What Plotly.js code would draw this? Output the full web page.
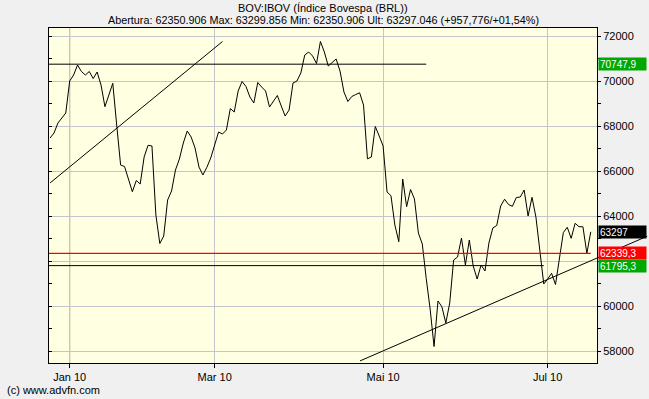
<!DOCTYPE html>
<html>
<head>
<meta charset="utf-8">
<script src="https://cdn.plot.ly/plotly-3.0.1.min.js"></script>
<style>html,body{margin:0;padding:0;background:#f0f0f0;}#chart{width:649px;height:399px;}</style>
</head>
<body>
<div id="chart"></div>
<script>
// Daily closes (trading-day index 0..138), Dec 2009 - Jul 2010
const closes = [
 67467, 67689, 68133, 68356, 68578, 70000, 70267, 70711, 70422, 70267,
 70422, 70111, 70400, 69822, 68858, 69378, 69898, 68044, 66267, 66200,
 65644, 65080, 65578, 65422, 66622, 67142, 67111, 64044, 62778, 63111,
 64711, 65111, 66044, 66533, 67244, 67778, 67511, 67022, 66178, 65822,
 66160, 66578, 67156, 67733, 67644, 67822, 68778, 68622, 69556, 69978,
 69756, 69289, 69022, 69933, 69733, 69556, 68844, 69111, 69356, 68889,
 68444, 68711, 69911, 70000, 70356, 71156, 71289, 71111, 70778, 71756,
 71289, 70667, 70822, 70978, 70444, 69511, 69089, 69311, 69400, 69476,
 68933, 66542, 66622, 67978, 67556, 67111, 65067, 64902, 63600, 62858,
 65644, 64413, 65178, 64756, 63244, 62756, 61222, 59867, 58200, 60222,
 59969, 59244, 60133, 62044, 62178, 63022, 61822, 62933, 61778, 61200,
 61822, 61556, 62800, 63467, 63578, 64444, 64747, 64511, 64431, 64822,
 64844, 65156, 64000, 64831, 63956, 62311, 60978, 61200, 61453, 60956,
 62191, 63267, 63498, 63009, 63676, 63524, 63524, 62339, 63297
];
const dayIndex = closes.map((_, i) => i);

// month ticks (trading-day index of first session of month)
const tickIdx = [5, 42, 85, 127];
const tickLabels = ['Jan 10', 'Mar 10', 'Mai 10', 'Jul 10'];

// value axis ticks (62000 label is hidden behind the value tags)
const yTickVals = [58000, 60000, 62000, 64000, 66000, 68000, 70000, 72000];
const yTickText = ['58000', '60000', '', '64000', '66000', '68000', '70000', '72000'];

// horizontal levels
const resistanceLevel = 70747.9;
const resistanceEnd = 96;
const prevCloseLevel = 62339.3;
const supportLevel = 61795.3;
const supportEnd = 126;
const lastValue = 63297;

// trend lines (index, value)
const trendUpX = [0, 44];
const trendUpY = [65470, 71756];
const trendLowX = [79.1, 152.4];
const trendLowY = [57560, 63100];

// right-side value tags
const tagTexts = ['70747,9', '63297', '62339,3', '61795,3'];
const tagValues = [resistanceLevel, lastValue, prevCloseLevel, supportLevel];
const tagColors = ['#00a800', '#000000', '#ff0000', '#00a800'];

const titleLine1 = 'BOV:IBOV (Índice Bovespa (BRL))';
const titleLine2 = 'Abertura: 62350.906 Max: 63299.856 Min: 62350.906 Ult: 63297.046 (+957,776/+01,54%)';
const copyright = '(c) www.advfn.com';

const xRange = [-0.28, 139.59];
const yRange = [57467, 72356];
const FONT = 'Liberation Sans, Arial, sans-serif';
const toPaperX = v => (v - xRange[0]) / (xRange[1] - xRange[0]);

const traces = [
  {x: dayIndex, y: closes, type: 'scatter', mode: 'lines',
   line: {color: '#000000', width: 1}, hoverinfo: 'skip'},
  {x: [], y: [], yaxis: 'y2', type: 'scatter', mode: 'lines', hoverinfo: 'skip'}
];

const shapes = [
  {type: 'line', xref: 'x', yref: 'paper', x0: tickIdx[0], x1: tickIdx[0], y0: 0, y1: 1,
   line: {color: '#8c8c8c', width: 1}, layer: 'below'},
  {type: 'line', xref: 'x', yref: 'y', x0: xRange[0], x1: resistanceEnd,
   y0: resistanceLevel, y1: resistanceLevel, line: {color: '#000000', width: 1}},
  {type: 'line', xref: 'x', yref: 'y', x0: xRange[0], x1: closes.length - 1,
   y0: prevCloseLevel, y1: prevCloseLevel, line: {color: '#ff0000', width: 1.3}},
  {type: 'line', xref: 'x', yref: 'y', x0: xRange[0], x1: supportEnd,
   y0: supportLevel, y1: supportLevel, line: {color: '#000000', width: 1}},
  {type: 'line', xref: 'x', yref: 'y', x0: trendUpX[0], x1: trendUpX[1],
   y0: trendUpY[0], y1: trendUpY[1], line: {color: '#000000', width: 1}},
  {type: 'line', xref: 'paper', yref: 'y', x0: toPaperX(trendLowX[0]), x1: toPaperX(trendLowX[1]),
   y0: trendLowY[0], y1: trendLowY[1], line: {color: '#000000', width: 1}}
];

const annotations = [
  {xref: 'paper', yref: 'paper', x: 0.5, y: 1, yshift: 20, yanchor: 'middle', showarrow: false,
   text: titleLine1, font: {family: FONT, size: 11, color: '#000000'}},
  {xref: 'paper', yref: 'paper', x: 0.5, y: 1, yshift: 8.5, yanchor: 'middle', showarrow: false,
   text: titleLine2, font: {family: FONT, size: 10.8, color: '#000000'}},
  {xref: 'paper', yref: 'paper', x: (5 - 49) / 548, y: 0, yshift: -27, xanchor: 'left', yanchor: 'middle',
   showarrow: false, text: copyright, font: {family: FONT, size: 11, color: '#000000'}}
];
tagTexts.forEach((t, k) => {
  annotations.push({xref: 'paper', yref: 'y', x: 1, xshift: 1, y: tagValues[k], xanchor: 'left', yanchor: 'middle',
    showarrow: false, text: t, align: 'left', width: 45, height: 10, borderpad: 1,
    bgcolor: tagColors[k], font: {family: FONT, size: 10, color: '#ffffff'}});
});

const layout = {
  width: 649, height: 399,
  margin: {l: 49, r: 52, t: 28, b: 36, pad: 0},
  paper_bgcolor: '#f0f0f0',
  plot_bgcolor: '#ffffe1',
  showlegend: false,
  font: {family: FONT, size: 11, color: '#000000'},
  xaxis: {
    range: xRange, tickmode: 'array', tickvals: tickIdx, ticktext: tickLabels,
    ticks: 'outside', ticklen: 4, tickcolor: '#000000',
    showgrid: true, gridcolor: '#c4c4cc', gridwidth: 1,
    showline: true, linecolor: '#000000', linewidth: 1, mirror: true,
    zeroline: false, tickfont: {family: FONT, size: 11, color: '#000000'}
  },
  yaxis: {
    range: yRange, side: 'right', tickmode: 'array', tickvals: yTickVals, ticktext: yTickText,
    ticks: 'outside', ticklen: 3, tickcolor: '#000000',
    minor: {ticks: 'outside', dtick: 1000, tick0: 0, ticklen: 3, tickcolor: '#000000', showgrid: false},
    showgrid: true, gridcolor: '#c4c4cc', gridwidth: 1,
    showline: true, linecolor: '#000000', linewidth: 1, mirror: true,
    zeroline: false,
    tickfont: {family: FONT, size: 11, color: '#000000'}
  },
  yaxis2: {
    range: yRange, overlaying: 'y', side: 'left', matches: 'y', tickmode: 'linear', tick0: 0, dtick: 1000,
    ticks: 'inside', ticklen: 3, tickcolor: '#000000', showticklabels: false,
    showgrid: false, showline: false, zeroline: false
  },
  shapes: shapes,
  annotations: annotations
};

Plotly.newPlot('chart', traces, layout, {staticPlot: true, displayModeBar: false});
</script>
</body>
</html>
